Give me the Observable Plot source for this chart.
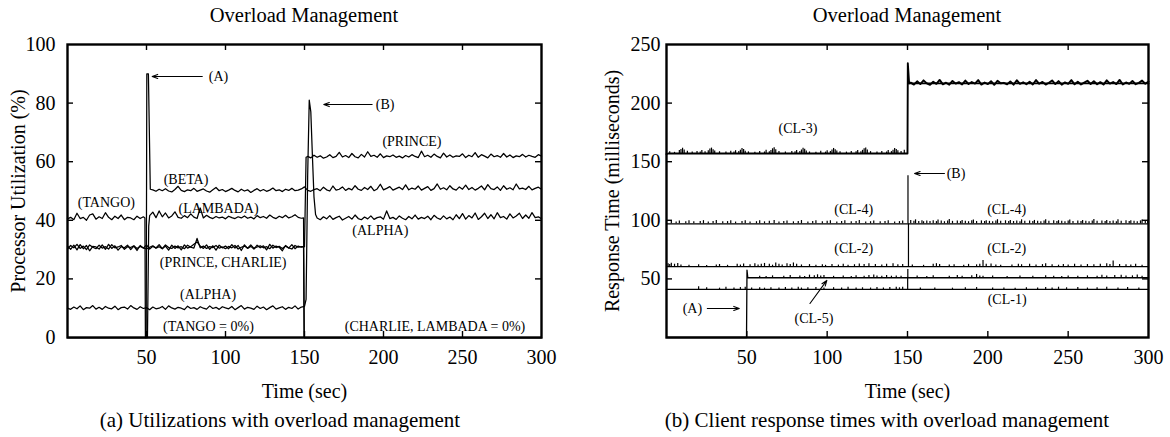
<!DOCTYPE html>
<html><head><meta charset="utf-8">
<script src="https://cdn.jsdelivr.net/npm/d3@7"></script>
<script src="https://cdn.jsdelivr.net/npm/@observablehq/plot@0.6"></script>
<style>
body{margin:0;background:#fff;}
#fig{position:relative;width:1170px;height:437px;font-family:"Liberation Serif","Times New Roman",serif;color:#000;overflow:hidden;}
.pane{position:absolute;top:0;}
.title,.cap{position:absolute;white-space:nowrap;transform:translateX(-50%);line-height:20px;}
.title{top:5px;font-size:20.5px;}
.cap{top:410px;font-size:21px;}
</style></head>
<body>
<div id="fig">
  <div id="left" class="pane" style="left:0"></div>
  <div id="right" class="pane" style="left:585px"></div>
  <div class="title" style="left:304px">Overload Management</div>
  <div class="title" style="left:907px">Overload Management</div>
  <div class="cap" style="left:280px">(a) Utilizations with overload management</div>
  <div class="cap" style="left:887px">(b) Client response times with overload management</div>
</div>
<script>
// ---------- shared ticks ----------
const xTickLabels = [50,100,150,200,250,300];
const xInnerTicks = [50,100,150,200,250];
const leftYTickLabels = [0,20,40,60,80,100];
const leftYInnerTicks = [20,40,60,80];
const rightYTickLabels = [50,100,150,200,250];
const rightYInnerTicks = [50,100,150,200];

// ---------- (a) utilization data (2-second samples) ----------
const tangoVals = [40.5,41,40.2,42.4,40.6,41,40,41.8,42.2,40.4,41.2,40.6,42.6,41,40.2,41.4,40.6,41.8,40.2,41,40.8,40.2,41.4,40.6,41.2];
const alphaVals1 = [10,9.6,10.4,9.8,10.8,9.5,10.2,10,10.9,9.7,10.3,9.6,10.6,10,9.8,10.7,9.5,10.2,10.4,9.7,10.9,10.1,9.6,10.5,9.9,
  10.2,9.5,10.4,9.8,10,10.6,9.6,10.8,10.1,9.7,10.3,10,9.5,10.7,9.9,10.2,9.6,10.5,10,9.7,10.8,9.9,10.3,9.6,10.5,
  10.1,9.8,10.6,9.5,10.2,10.9,9.7,10.3,10,9.6,10.7,9.9,10.4,9.5,10.2,10.8,9.7,10.1,10.5,9.6,10.3,9.9,10.8,9.7,10.4,10.6];
const alphaPeak = [[151,13],[152,55],[153,81],[154,77],[155,62],[156,48],[157,42]];
const alphaVals2 = [40.8,40.2,41.2,40.5,41.6,40.3,40.9,41.4,40.1,40.7,41.3,40.4,41.8,40.6,40.2,41.1,40.5,41.5,40.3,40.9,
  41.2,40.4,43.2,40.6,41,40.3,41.5,40.7,40.2,41.3,40.5,41.8,40.4,41,40.6,41.4,40.2,41.7,40.8,40.3,
  41.5,40.5,41.1,40.2,41.9,40.6,42.3,40.4,41.6,40.8,42.5,40.3,41.2,42.4,40.6,41.9,40.5,42.6,40.9,41.3,
  40.4,42.2,40.8,41.5,42.4,40.6,41.8,40.7,42.6,40.9,41.2,40.5];
const betaStart = [[0,0],[49.8,0],[50.2,90],[51.2,90],[52.4,50.6]];
const betaVals = [50.4,49.9,50.6,50.1,50.8,50,49.7,50.5,51.6,50.2,49.8,50.4,50.1,50.9,49.9,50.3,50.7,50,49.6,50.4,
  51.2,50.1,50.5,49.8,50.3,50.9,50.2,49.7,50.6,50,50.4,49.5,50.2,50.8,50,50.5,49.9,50.3,51,50.1,
  50.4,49.8,50.6,50.2,50.9,50.1,50.3,50.7,51.4,50.2,49.9,50.5,50.8,50.1,51.3,50.4,50,51.7,50.3,50.6,
  51.4,50.2,50.9,50.4,51.8,50.6,50.2,51.2,50.5,51.6,50.1,50.7,52.3,50.4,50.9,51.5,50.3,50.8,51.3,50.5,
  52.1,50.4,51,50.6,51.7,50.3,50.9,51.5,50.2,50.8,52.4,50.6,51.1,50.4,51.8,50.7,50.3,51.4,50.6,52,
  50.5,51.2,50.3,50.9,51.7,50.4,52.2,50.8,50.5,51.4,50.2,51.8,50.6,51.1,50.4,52.4,50.7,51,50.5,51.6,
  50.4,50.9,51.3,50.6];
const lambadaStart = [[0,0],[50.6,0],[51.4,38],[52,41.6]];
const lambadaVals = [42.8,40.9,43.2,41.2,42.5,40.8,41.5,42.9,41,40.7,41.6,40.9,42.2,41.1,40.6,44.2,40.8,41.7,41,40.6,
  41.3,40.8,41.1,40.5,41.4,40.9,40.6,41.2,40.8,41.5,40.7,41.1,40.5,41.6,40.9,41.3,40.7,41.8,41,40.6,
  41.4,40.9,41.7,40.8,41.2,41.9,41,40.7];
const charlieVals = [30.2,31.4,30.6,31.8,30.4,31.2,30,31.6,30.8,30.3,31.5,30.5,31,30.2,31.7,30.6,30.9,31.4,30.1,31,30.7,31.3,30.4,31.1,30.6,
  30.2,30.8,31.3,30.5,31,30.3,31.6,30.7,30.4,31.2,30.6,31,30.3,31.5,30.8,30.5,33.8,30.6,31.2,30.4,31,30.7,31.4,30.5,30.9,
  30.3,31.1,30.6,31.4,30.2,30.8,31.2,30.5,31.6,30.4,30.9,31.3,30.6,31,30.3,31.5,30.7,31.1,30.4,31.2,30.6,30.2,31.4,30.8,31];
const princeVals1 = [31.2,30.1,31.5,29.9,31.7,30.3,31.4,29.6,31.1,30.9,30.2,31.6,30.1,31.8,30.4,31.3,29.8,31,30.6,31.5,30,31.2,29.7,31.4,30.5,
  31.6,30.2,31.1,30.6,31.7,30.3,31.2,29.8,31.5,30.4,31.3,29.9,31.6,30.5,31,31.8,32.6,31.2,30.4,31.6,30.1,31.3,29.8,31.5,30.6,
  31.2,30.3,31.7,30.5,31.4,29.7,31.6,30.4,31.1,30.2,31.5,30.6,31.3,29.9,31.8,30.5,31.2,30.8,29.6,31.4,30.5,31.7,30.3,31.2,30.8];
const princeVals2 = [61.8,61.3,62.2,61.5,62,61.2,61.6,62.4,61.4,61.8,63.2,61.6,62.1,61.4,62.8,61.7,61.3,62.5,61.6,63.4,
  61.8,62.2,61.5,62.7,61.4,62,61.7,62.3,61.5,61.9,61.3,62.1,61.6,62.4,61.8,61.4,63.6,61.7,62.2,61.5,
  62.6,61.8,61.3,62.9,61.6,62.3,61.5,62,61.8,62.7,61.4,62.2,61.7,63.1,61.5,62.4,61.9,61.3,62.6,61.7,
  62.1,61.5,62.8,61.6,62.3,61.4,62,61.7,62.5,61.6,62.2,61.8,61.5,62.4,61.9];

const leftLabels = [
  {text:"(A)", t:95.6, v:89.1}, {text:"(B)", t:201, v:79.5},
  {text:"(PRINCE)", t:218, v:67}, {text:"(BETA)", t:75, v:54},
  {text:"(TANGO)", t:24.6, v:46}, {text:"(LAMBADA)", t:95.6, v:44},
  {text:"(ALPHA)", t:198, v:36.4}, {text:"(PRINCE, CHARLIE)", t:98.5, v:25.6},
  {text:"(ALPHA)", t:89, v:14.6}, {text:"(TANGO = 0%)", t:89.2, v:3.7},
  {text:"(CHARLIE, LAMBADA = 0%)", t:232.6, v:3.7}
];
const leftArrows = [
  {x1:85.3, y1:89.1, x2:53.6, y2:89.1},
  {x1:192.8, y1:79.5, x2:162.2, y2:79.5}
];

// ---------- (b) response time data ----------
const cl3Base = 157;
const cl3Left = [[0,156.4],[1,157],[150,157],[150.2,234],[151,216.8]];
const cl3RightVals = [217.5,215.8,218.6,216.2,219.4,216.8,215.6,218.2,216.4,219.8,216,217.4,215.7,218.9,216.6,217.9,215.9,219.2,216.3,218,
  216.7,219.6,215.8,217.6,216.2,218.7,215.6,219.1,216.9,217.3,216,218.5,215.7,219.5,216.4,217.8,216.1,218.3,215.9,219.7,
  216.5,218.1,215.8,217.4,219.3,216.2,218.8,215.7,217.7,216.4,219.6,216,218.2,215.9,217.5,219.1,216.3,218.6,216.1,217.9,
  215.8,219.4,216.6,218,216.2,219.8,215.9,217.6,216.4,218.9,216.1,217.3,219.2,216.5,218.4];
const cl3RightBase = [[151,216.8],[300,216.8]];
const cl3Spikes = [[2,158.5],[5,158],[8,159.5],[9,160.5],[10,161.5],[11,160],[13,159],[16,158.3],[19,158.8],[21,158.2],[22,159.6],[24,158.4],[26,159.3],[27,160.8],[28,161.6],[29,160.2],[30,159.2],[33,158.5],[37,158.2],[40,158.9],[42,158.3],[43,159.4],[45,158.6],[46,159.8],[47,161.2],[48,160.4],[49,159],[51,158.4],[55,158.1],[58,158.7],[61,158.3],[62,159.7],[64,158.5],[65,159.6],[66,161],[67,161.8],[68,160.1],[70,158.6],[74,158.2],[78,158.8],[80,158.4],[81,159.5],[83,158.7],[84,160],[85,161.4],[86,160.6],[87,159.1],[89,158.3],[93,158.1],[96,158.9],[99,158.2],[100,159.4],[102,158.6],[103,159.9],[104,161.3],[105,160.3],[106,159.2],[108,158.5],[112,158.2],[115,158.8],[118,158.4],[119,159.6],[121,158.5],[122,159.7],[123,161.1],[124,161.7],[125,160],[127,158.6],[131,158.2],[134,158.7],[137,158.3],[138,159.5],[140,158.6],[141,159.8],[142,161.2],[143,160.5],[144,159.3],[146,158.7],[148,159.8]];

const cl4Base = 97;
const cl4Line = [[0,97],[300,97]];
const cl4Spikes = [[3,99],[6,98.6],[8,99.5],[12,98.8],[14,99.6],[17,98.7],[21,98.9],[23,99.7],[26,98.6],[29,99],[31,99.8],[35,98.7],[38,98.9],[40,99.6],[43,98.5],[47,99],[49,99.7],[52,98.6],[56,98.8],[58,99.6],[61,98.7],[64,99.1],[67,99.8],[70,98.6],[73,98.9],[75,99.5],[79,98.7],[82,99],[84,99.8],[88,98.6],[91,98.9],[93,99.6],[97,98.7],[100,99.1],[102,99.7],[106,98.6],[109,98.9],[111,99.6],[115,98.7],[118,99],[120,99.8],[124,98.6],[127,98.8],[129,99.5],[133,98.7],[136,99],[138,99.7],[142,98.6],[145,98.9],[147,99.5],[150.3,138],
  [152,99.8],[154,99.2],[155,100.4],[157,99],[159,99.6],[160,98.8],[162,99.4],[164,99],[166,99.7],[168,98.9],[169,100.2],[171,99.3],[173,98.8],[175,99.5],[176,100.6],[178,99.1],[181,99.4],[183,98.9],[184,99.8],[186,99.2],[188,98.8],[190,99.6],[191,100.3],[193,99],[196,99.5],[198,98.9],[199,99.7],[201,99.1],[203,98.8],[205,99.4],[206,100.5],[208,99.2],[211,99.6],[213,98.9],[214,99.8],[216,99],[218,99.3],[220,98.8],[221,100.4],[223,99.1],[226,99.5],[228,98.9],[229,99.9],[231,99.1],[233,98.8],[235,99.4],[236,100.5],[238,99.2],[241,99.6],[243,98.9],[244,99.7],[246,99.1],[248,98.8],[250,99.5],[251,100.3],[253,99],[256,99.5],[258,98.9],[259,99.8],[261,99.1],[263,98.8],[265,99.4],[266,100.6],[268,99.2],[271,99.5],[273,98.9],[274,99.8],[276,99],[278,99.3],[280,98.8],[281,100.4],[283,99.1],[286,99.6],[288,98.9],[289,99.7],[291,99.1],[293,98.8],[295,99.5],[296,100.2],[298,99.4],[299.5,100]];

const cl2Base = 60.5;
const cl2Line = [[0,60.5],[300,60.5]];
const cl2Spikes = [[1,63],[2,62.2],[3,63.4],[5,62.5],[7,63.2],[9,61.8],[14,61.6],[20,62],[25,61.5],[31,61.9],[33,62.3],[38,61.6],[44,62.5],[46,61.8],[48,62.8],[52,62.1],[55,63],[57,61.9],[59,62.6],[61,63.2],[64,62.4],[66,61.7],[68,63.5],[70,62.6],[72,61.8],[75,62.9],[77,62.3],[79,63.6],[81,62.4],[84,61.9],[89,62.2],[93,61.7],[97,62],[99,61.6],[103,62.3],[107,61.8],[110,62.6],[113,61.7],[117,62.1],[120,62.8],[123,62.2],[126,63],[130,62.3],[134,61.9],[137,62.6],[141,62.9],[144,62.1],[147,62.3],[150.6,97],
  [153,61.8],[160,61.6],[166,62.5],[168,63],[170,62.2],[176,61.8],[179,62.1],[185,61.6],[188,62.4],[193,62],[195,62.6],[197,65.8],[199,62.4],[202,62.8],[205,61.9],[208,61.6],[215,61.9],[219,62.6],[221,62.1],[226,62.4],[230,61.8],[234,62.2],[236,62.9],[240,62],[244,61.7],[247,62.3],[250,61.9],[254,62.5],[258,61.8],[262,62.3],[266,62.1],[270,62.4],[274,62.9],[276,62.2],[278,65.2],[282,62.3],[286,62],[289,61.8],[292,62.4],[296,61.7]];

const cl5Base = 51;
const cl5Line = [[0,0],[49.8,0],[50.1,57.5],[50.6,51],[300,51]];
const cl5Spikes = [[58,52.3],[62,52],[66,52.6],[73,52.2],[77,52.8],[83,52.4],[86,52.1],[89,53.2],[92,52.6],[94,53.5],[96,52.4],[98,52.9],[104,52.2],[110,52.5],[115,52.1],[118,52.7],[123,52.3],[126,52.9],[129,53.3],[131,52.4],[134,52.2],[137,52.8],[140,52.3],[143,52.5],[146,52.2],[150.2,58],[156,52.4],[162,52.1],[166,52.6],[176,52.3],[181,52.8],[184,52.2],[190,52.6],[193,53.8],[195,52.5],[197,52.2],[203,52.4],[212,52.1],[220,52.5],[228,52.2],[236,52.7],[241,52.3],[246,52.1],[250,52.4],[256,52.2],[262,52.6],[268,52.3],[271,53.1],[274,52.5],[279,52.8],[283,53.2],[286,52.4],[290,52.6],[293,53.4],[296,52.3]];

const cl1Base = 41;
const cl1Line = [[0,41],[300,41]];
const cl1Spikes = [[20,43.2],[25,42.4],[33,42.1],[37,42.8],[42,42.3],[46,42.6],[49,42.9],[53,42.2],[58,42.5],[61,42.1],[65,42.4],[70,42.2],[74,42.7],[78,42.3],[82,42.9],[84,42.2],[88,42.4],[93,42.6],[98,42.2],[104,42.5],[109,42.3],[113,42.8],[118,42.2],[122,42.4],[127,42.2],[131,42.6],[135,42.3],[139,42.7],[143,42.9],[145,42.4],[147,42.8],[150.1,51.5],[158,42.2],[167,42.3],[178,42.1],[186,42.4],[193,42.6],[203,42.2],[210,42.3],[217,42.1],[224,42.5],[231,42.2],[236,42.7],[240,42.3],[244,42.9],[249,42.4],[256,42.6],[262,42.2],[268,42.5],[274,42.8],[281,42.3],[287,42.6],[294,42.2]];

const rightLabels = [
  {text:"(CL-3)", t:81.8, v:178.4},
  {text:"(CL-4)", t:116.5, v:109.4}, {text:"(CL-4)", t:211.7, v:109.4},
  {text:"(CL-2)", t:116.5, v:76}, {text:"(CL-2)", t:211.7, v:76},
  {text:"(CL-1)", t:212, v:32.5}, {text:"(CL-5)", t:91.8, v:16.2},
  {text:"(A)", t:16.1, v:24.8}, {text:"(B)", t:180.2, v:139.9}
];
const rightArrows = [
  {x1:25.4, y1:24.8, x2:45.3, y2:24.8},
  {x1:89.3, y1:29, x2:99.8, y2:48.7},
  {x1:173, y1:139.9, x2:154.4, y2:139.9}
];

// ---------- helpers ----------
const seg = (t0, vals) => vals.map((v, i) => [t0 + 2 * i, v]);
const rows = (name, pts) => pts.map(([t, v]) => ({name, t, v}));
const spikeRows = (name, base, pts) => pts.map(([t, v]) => ({name, t, base, v}));

const leftData = [
  ...rows("TANGO", [...seg(0, tangoVals), [49, 40.8], [49.3, 0], [300, 0]]),
  ...rows("ALPHA", [...seg(0, alphaVals1), ...alphaPeak, ...seg(158, alphaVals2)]),
  ...rows("BETA", [...betaStart, ...seg(54, betaVals)]),
  ...rows("LAMBADA", [...lambadaStart, ...seg(54, lambadaVals), [149.4, 40.8], [149.8, 0], [300, 0]]),
  ...rows("CHARLIE", [...seg(0, charlieVals), [149.4, 31], [149.8, 0], [300, 0]]),
  ...rows("PRINCE", [...seg(0, princeVals1), [150, 31], [151, 61.5], ...seg(152, princeVals2)])
];

const cl3Data = [
  ...rows("CL-3", [...cl3Left, ...seg(152, cl3RightVals)]),
  ...rows("CL-3b", cl3RightBase)
];
const rightLines = [
  ...rows("CL-4", cl4Line), ...rows("CL-2", cl2Line),
  ...rows("CL-5", cl5Line), ...rows("CL-1", cl1Line)
];
const rightSpikes = [
  ...spikeRows("CL-3", cl3Base, cl3Spikes), ...spikeRows("CL-4", cl4Base, cl4Spikes),
  ...spikeRows("CL-2", cl2Base, cl2Spikes), ...spikeRows("CL-5", cl5Base, cl5Spikes),
  ...spikeRows("CL-1", cl1Base, cl1Spikes)
];

const H = 437, MT = 44, MB = 100, TL = 6;
const FH = H - MT - MB;
const font = "'Liberation Serif','Times New Roman',serif";

function frameMarks(fw, yInner) {
  return [
    Plot.frame({stroke: "black", strokeWidth: 2.4}),
    Plot.tickX(xInnerTicks, {x: d => d, insetTop: FH - TL, stroke: "black", strokeWidth: 1.4}),
    Plot.tickX(xInnerTicks, {x: d => d, insetBottom: FH - TL, stroke: "black", strokeWidth: 1.4}),
    Plot.tickY(yInner, {y: d => d, insetRight: fw - TL, stroke: "black", strokeWidth: 1.4}),
    Plot.tickY(yInner, {y: d => d, insetLeft: fw - TL, stroke: "black", strokeWidth: 1.4})
  ];
}

// ---------- (a) ----------
{
  const W = 585, ML = 67, MR = 44, FW = W - ML - MR;
  const chart = Plot.plot({
    width: W, height: H, marginLeft: ML, marginRight: MR, marginTop: MT, marginBottom: MB,
    x: {domain: [0, 300]}, y: {domain: [0, 100]},
    style: {fontFamily: font, background: "transparent", color: "black", overflow: "visible"},
    marks: [
      Plot.line(leftData, {x: "t", y: "v", z: "name", stroke: "black", strokeWidth: 1.25}),
      ...frameMarks(FW, leftYInnerTicks),
      Plot.axisX(xTickLabels, {anchor: "bottom", tickSize: 0, tickPadding: 12, fontSize: 20, label: "Time (sec)", labelAnchor: "center", labelOffset: 60, labelArrow: "none"}),
      Plot.axisY(leftYTickLabels, {anchor: "left", tickSize: 0, tickPadding: 12, fontSize: 20, label: "Processor Utilization (%)", labelAnchor: "center", labelOffset: 57, labelArrow: "none"}),
      Plot.text(leftLabels, {x: "t", y: "v", text: "text", fontSize: 14, fill: "black"}),
      Plot.arrow(leftArrows, {x1: "x1", y1: "y1", x2: "x2", y2: "y2", stroke: "black", strokeWidth: 1.1, headLength: 8, headAngle: 40})
    ]
  });
  document.getElementById("left").appendChild(chart);
}

// ---------- (b) ----------
{
  const W = 585, ML = 81, MR = 22, FW = W - ML - MR;
  const chart = Plot.plot({
    width: W, height: H, marginLeft: ML, marginRight: MR, marginTop: MT, marginBottom: MB,
    x: {domain: [0, 300]}, y: {domain: [0, 250]},
    style: {fontFamily: font, background: "transparent", color: "black", overflow: "visible"},
    marks: [
      Plot.ruleX(rightSpikes, {x: "t", y1: "base", y2: "v", stroke: "black", strokeWidth: 1.2}),
      Plot.line(cl3Data, {x: "t", y: "v", z: "name", stroke: "black", strokeWidth: 1.9}),
      Plot.line(rightLines, {x: "t", y: "v", z: "name", stroke: "black", strokeWidth: 1.3}),
      ...frameMarks(FW, rightYInnerTicks),
      Plot.axisX(xTickLabels, {anchor: "bottom", tickSize: 0, tickPadding: 12, fontSize: 20, label: "Time (sec)", labelAnchor: "center", labelOffset: 60, labelArrow: "none"}),
      Plot.axisY(rightYTickLabels, {anchor: "left", tickSize: 0, tickPadding: 6, fontSize: 20, label: "Response Time (milliseconds)", labelAnchor: "center", labelOffset: 62, labelArrow: "none"}),
      Plot.text(rightLabels, {x: "t", y: "v", text: "text", fontSize: 14, fill: "black"}),
      Plot.arrow(rightArrows, {x1: "x1", y1: "y1", x2: "x2", y2: "y2", stroke: "black", strokeWidth: 1.1, headLength: 8, headAngle: 40})
    ]
  });
  document.getElementById("right").appendChild(chart);
}
</script>
</body></html>
